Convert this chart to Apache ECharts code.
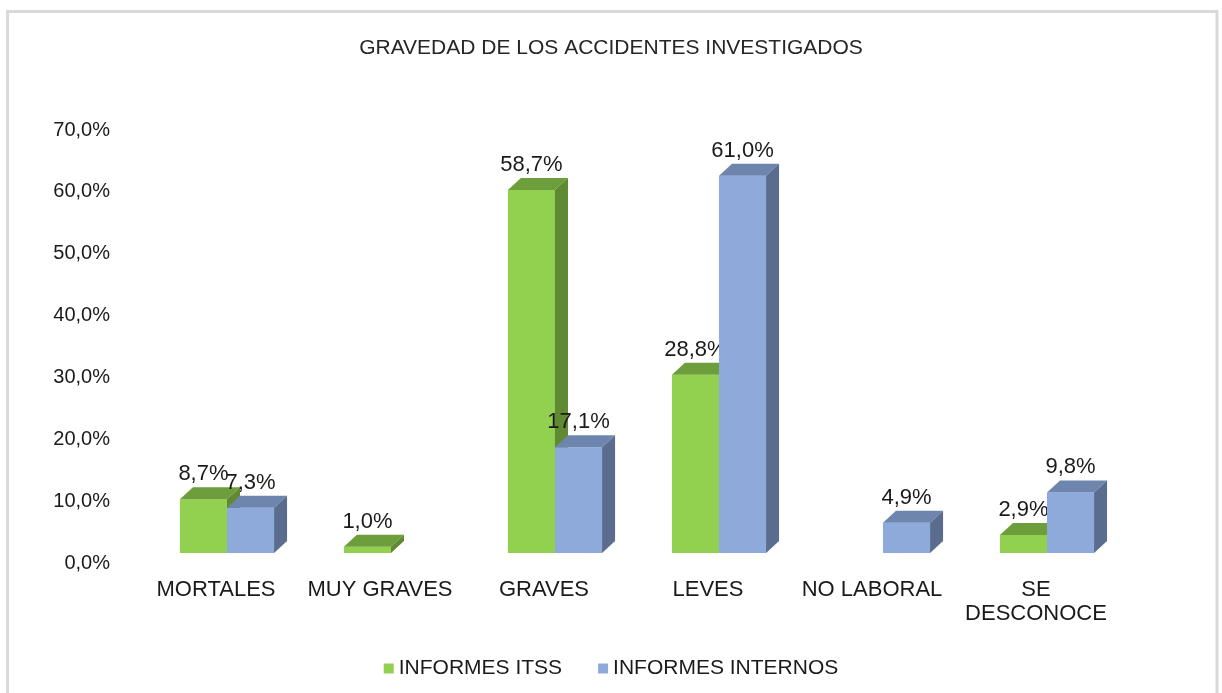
<!DOCTYPE html>
<html>
<head>
<meta charset="utf-8">
<script src="https://cdn.jsdelivr.net/npm/echarts@6/dist/echarts.min.js"></script>
<style>
  html, body { margin: 0; padding: 0; background: #fff; }
  #chart { width: 1222px; height: 693px; }
</style>
</head>
<body>
<div id="chart"></div>
<script>
// datos
var categorias = ['MORTALES', 'MUY GRAVES', 'GRAVES', 'LEVES', 'NO LABORAL', 'SE\nDESCONOCE'];
var informesItss = [8.7, 1.0, 58.7, 28.8, null, 2.9];
var informesInternos = [7.3, null, 17.1, 61.0, 4.9, 9.8];
var ticksY = [0, 10, 20, 30, 40, 50, 60, 70];

var FONT = '"Liberation Sans", Arial, sans-serif';

function pct(v) {
  return v.toFixed(1).replace('.', ',') + '%';
}

// barra 3D: cara frontal, superior y lateral
function makeRender(idx, front, top, side) {
  return function (params, api) {
    var i = api.value(0), v = api.value(1);
    var c = api.coord([i, 0]);
    var t = api.coord([i, v]);
    var band = api.size([1, 0])[0];
    var w = band * 0.287;
    var shift = band * 0.067;
    var lift = 10, dx = 13, dy = 12;
    var x0 = c[0] + shift + (idx === 0 ? -w : 0);
    var x1 = x0 + w;
    var yB = c[1] - lift;
    var yT = t[1] - lift;
    return {
      type: 'group',
      children: [
        { type: 'rect', shape: { x: x0, y: yT, width: w, height: yB - yT }, style: { fill: front } },
        { type: 'polygon', shape: { points: [[x0, yT], [x1, yT], [x1 + dx, yT - dy], [x0 + dx, yT - dy]] }, style: { fill: top } },
        { type: 'polygon', shape: { points: [[x1, yT], [x1 + dx, yT - dy], [x1 + dx, yB - dy], [x1, yB]] }, style: { fill: side } },
        { type: 'text', style: { text: pct(v), x: (x0 + x1) / 2, y: yT - 25, align: 'center', verticalAlign: 'middle',
            fontSize: 22, fontFamily: FONT, fill: '#1a1a1a' } }
      ]
    };
  };
}

function toData(arr) {
  var out = [];
  arr.forEach(function (v, i) { if (v != null) out.push([i, v]); });
  return out;
}

var myChart = echarts.init(document.getElementById('chart'));
var option = {
  animation: false,
  title: {
    text: 'GRAVEDAD DE LOS ACCIDENTES INVESTIGADOS',
    left: 'center',
    top: 33,
    textStyle: { fontSize: 21, fontWeight: 'normal', color: '#262626', fontFamily: FONT }
  },
  graphic: [{
    type: 'rect',
    shape: { x: 7.5, y: 11.5, width: 1209.5, height: 720 },
    style: { fill: null, stroke: '#d9d9d9', lineWidth: 3 },
    silent: true
  }],
  legend: {
    top: 653,
    left: 'center',
    icon: 'rect',
    itemWidth: 10,
    itemHeight: 10,
    itemGap: 36,
    textStyle: { fontSize: 21, color: '#1a1a1a', fontFamily: FONT },
    data: ['INFORMES ITSS', 'INFORMES INTERNOS']
  },
  grid: { left: 134, right: 104, top: 130, bottom: 130 },
  xAxis: {
    type: 'category',
    data: categorias,
    axisLine: { show: false },
    axisTick: { show: false },
    axisLabel: { interval: 0, margin: 15, fontSize: 22, lineHeight: 24, color: '#1a1a1a', fontFamily: FONT }
  },
  yAxis: {
    type: 'value',
    min: ticksY[0],
    max: ticksY[ticksY.length - 1],
    interval: 10,
    splitLine: { show: false },
    axisLine: { show: false },
    axisTick: { show: false },
    axisLabel: { margin: 24, fontSize: 20, color: '#1a1a1a', fontFamily: FONT, formatter: function (v) { return pct(v); } }
  },
  series: [
    {
      name: 'INFORMES ITSS',
      type: 'custom',
      itemStyle: { color: '#92D050' },
      renderItem: makeRender(0, '#92D050', '#6E9D3C', '#5F8A31'),
      data: toData(informesItss)
    },
    {
      name: 'INFORMES INTERNOS',
      type: 'custom',
      itemStyle: { color: '#8EAADB' },
      renderItem: makeRender(1, '#8EAADB', '#6E86AE', '#5B6D8E'),
      data: toData(informesInternos)
    }
  ]
};
myChart.setOption(option);
</script>
</body>
</html>
